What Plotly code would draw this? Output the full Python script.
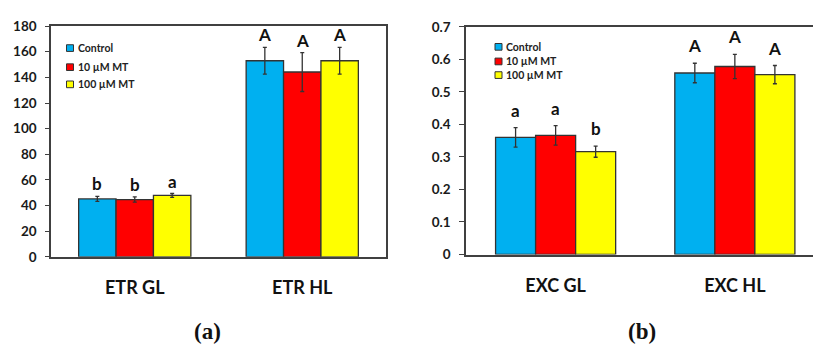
import plotly.graph_objects as go

# ---- data ----
series = ["Control", "10 µM MT", "100 µM MT"]
colors = ["#00B0F0", "#FF0000", "#FFFF00"]

cats_a = ["ETR GL", "ETR HL"]
vals_a = [[45.2, 153.0], [44.7, 144.2], [47.9, 153.0]]
errs_a = [[2.0, 10.5], [2.0, 15.2], [1.5, 10.5]]
letters_a = [["b", "A"], ["b", "A"], ["a", "A"]]
yticks_a = [0, 20, 40, 60, 80, 100, 120, 140, 160, 180]

cats_b = ["EXC GL", "EXC HL"]
vals_b = [[0.360, 0.558], [0.366, 0.578], [0.316, 0.553]]
errs_b = [[0.030, 0.030], [0.030, 0.037], [0.017, 0.028]]
letters_b = [["a", "A"], ["a", "A"], ["b", "A"]]
yticks_b = [0, 0.1, 0.2, 0.3, 0.4, 0.5, 0.6, 0.7]

panel_labels = ["(a)", "(b)"]

W, H = 813, 351
FONT = "Lato"
AX = "#404040"
BARGAP = 0.33

fig = go.Figure()

def add_panel(cats, vals, errs, xa, ya):
    for i, name in enumerate(series):
        fig.add_trace(go.Bar(
            x=cats, y=vals[i], name=name, xaxis=xa, yaxis=ya,
            marker=dict(color=colors[i], line=dict(color="#333333", width=1.3)),
            error_y=dict(type="data", array=errs[i], color="#333333",
                         thickness=1.3, width=2),
            showlegend=False,
        ))

add_panel(cats_a, vals_a, errs_a, "x", "y")
add_panel(cats_b, vals_b, errs_b, "x2", "y2")

annotations = []

def add_letters(vals, errs, letters, xref, yref, yshift):
    w = (1 - BARGAP) / 3
    for i in range(3):
        for c in range(2):
            annotations.append(dict(
                x=c + (i - 1) * w, y=vals[i][c] + errs[i][c], xref=xref, yref=yref,
                text=letters[i][c], showarrow=False, yanchor="bottom", yshift=yshift,
                font=dict(family=FONT, size=17, color="#111111", weight="bold")))

add_letters(vals_a, errs_a, letters_a, "x", "y", 0)
add_letters(vals_b, errs_b, letters_b, "x2", "y2", 5)

shapes = []

def add_legend(x0_px, ys_px):
    for i, name in enumerate(series):
        yc = ys_px[i]
        shapes.append(dict(type="rect", xref="paper", yref="paper",
                           x0=x0_px / W, x1=(x0_px + 7) / W,
                           y0=1 - (yc + 3.5) / H, y1=1 - (yc - 3.5) / H,
                           fillcolor=colors[i], line=dict(color="#333333", width=1)))
        annotations.append(dict(x=(x0_px + 9) / W, y=1 - yc / H, xref="paper", yref="paper",
                                text=name, showarrow=False, xanchor="left", yanchor="middle",
                                font=dict(family=FONT, size=10.5, color="#222222", weight="bold")))

add_legend(66.5, [42, 62, 80])
add_legend(495, [40.7, 56, 70.3])

for txt, xc in zip(panel_labels, [207, 642]):
    annotations.append(dict(x=xc / W, y=1 - 339 / H, xref="paper", yref="paper",
                            text=txt, showarrow=False, xanchor="center", yanchor="middle",
                            font=dict(family="Liberation Serif", size=23, color="#111111", weight="bold")))

tickfont = dict(family=FONT, size=13.5, color="#1a1a1a", weight="bold")
catfont = dict(family=FONT, size=18, color="#111111", weight="bold")

fig.update_layout(
    width=W, height=H, margin=dict(l=0, r=0, t=0, b=0),
    paper_bgcolor="white", plot_bgcolor="white",
    barmode="group", bargap=BARGAP, bargroupgap=0,
    annotations=annotations, shapes=shapes,
    xaxis=dict(domain=[51 / W, 386 / W], anchor="y", range=[-0.5, 1.5],
               showline=True, linecolor=AX, linewidth=1.5, mirror=True,
               ticks="", showgrid=False, tickfont=catfont, ticklabelstandoff=14),
    yaxis=dict(domain=[1 - 260.7 / H, 1 - 19 / H], anchor="x", range=[0, 180],
               tickvals=yticks_a, showline=True, linecolor=AX, linewidth=1.5, mirror=True,
               ticks="outside", ticklen=4, tickcolor=AX, showgrid=False, zeroline=False,
               tickfont=tickfont, ticklabelstandoff=6),
    xaxis2=dict(domain=[466 / W, 1.0], anchor="y2", range=[-0.5, 1.436],
                showline=True, linecolor=AX, linewidth=1.5, mirror=True,
                ticks="", showgrid=False, tickfont=catfont, ticklabelstandoff=14),
    yaxis2=dict(domain=[1 - 258.3 / H, 1 - 19.7 / H], anchor="x2", range=[0, 0.7],
                tickvals=yticks_b, showline=True, linecolor=AX, linewidth=1.5,
                ticks="outside", ticklen=5, tickcolor=AX, showgrid=False, zeroline=False,
                tickfont=tickfont, ticklabelstandoff=6),
)

fig.write_html("out.html")
